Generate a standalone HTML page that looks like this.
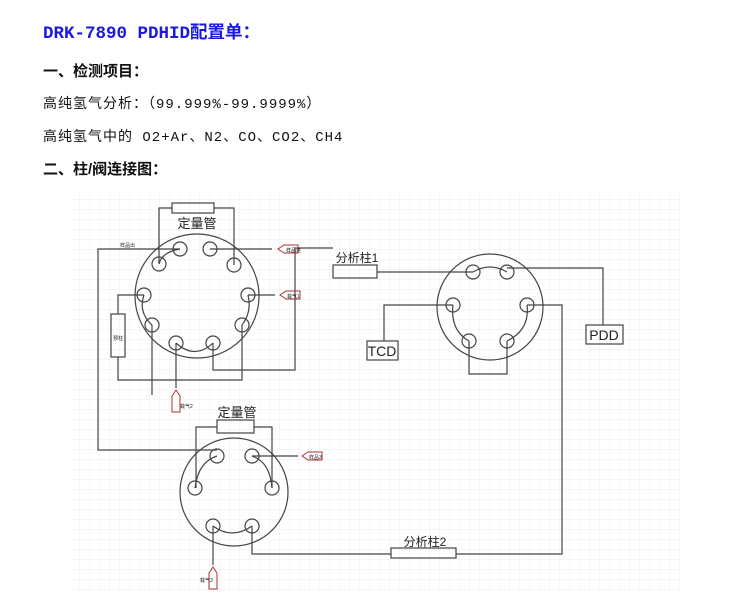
<!DOCTYPE html>
<html><head><meta charset="utf-8"><style>
body{margin:0;width:750px;height:600px;background:#fff;overflow:hidden;position:relative;font-family:"Liberation Sans","Noto Sans CJK SC",sans-serif}
.t{position:absolute;left:43px;white-space:nowrap;color:#111}
.m{font-family:"Liberation Mono","Noto Sans CJK SC",monospace;font-size:14px;letter-spacing:1px}
</style></head><body>
<div class="t" style="top:19px;font-size:17.5px;font-weight:bold;color:#1a1adc;font-family:'Liberation Mono','Noto Sans CJK SC',monospace">DRK-7890 PDHID配置单：</div>
<div class="t" style="top:60px;font-size:15px;font-weight:bold">一、检测项目：</div>
<div class="t m" style="top:93px">高纯氢气分析：（99.999%-99.9999%）</div>
<div class="t m" style="top:126px">高纯氢气中的 O2+Ar、N2、CO、CO2、CH4</div>
<div class="t" style="top:158px;font-size:15px;font-weight:bold">二、柱/阀连接图：</div>
<svg style="position:absolute;left:0;top:0" width="750" height="600">
<defs><pattern id="g" width="10" height="10" patternUnits="userSpaceOnUse"><path d="M10 0V10H0" fill="none" stroke="#ececec" stroke-width="1"/></pattern></defs>
<rect x="72" y="192" width="608" height="398" fill="url(#g)"/>
<g fill="none" stroke="#444" stroke-width="1.2">
<circle cx="197" cy="296" r="62"/>
<circle cx="180" cy="249" r="7"/><circle cx="210" cy="249" r="7"/>
<circle cx="159" cy="264" r="7"/><circle cx="234" cy="265" r="7"/>
<circle cx="144" cy="295" r="7"/><circle cx="248" cy="295" r="7"/>
<circle cx="152" cy="325" r="7"/><circle cx="242" cy="325" r="7"/>
<circle cx="176" cy="343" r="7"/><circle cx="213" cy="343" r="7"/>
<path d="M180 249Q162 252 159 264M144 295Q138 312 152 325M176 343Q195 360 213 343M248 295Q252 312 242 325"/>
<rect x="172" y="203" width="42" height="10"/>
<path d="M172 208H159V264M214 208H234V265"/>
<path d="M180 249H98V450H217"/>
<path d="M210 249H272M248 295H275"/>
<rect x="111" y="314" width="14" height="43"/>
<path d="M144 295H118V314M118 357V380H242V325M152 325V395M176 343V388"/>
<path d="M213 343V370H295V248H333M377 272H473"/>
<rect x="333" y="265" width="44" height="13"/>
<circle cx="490" cy="307" r="53"/>
<circle cx="473" cy="272" r="7"/><circle cx="507" cy="272" r="7"/>
<circle cx="453" cy="305" r="7"/><circle cx="527" cy="305" r="7"/>
<circle cx="469" cy="341" r="7"/><circle cx="507" cy="341" r="7"/>
<path d="M473 272Q490 262 507 272M453 305Q450 330 469 341M507 341Q530 330 527 305"/>
<path d="M507 268H603V325M453 305H384V341M527 305H562V554H456M469 341V374H507V341"/>
<rect x="586" y="325" width="37" height="19"/>
<rect x="367" y="341" width="31" height="19"/>
<circle cx="234" cy="492" r="54"/>
<circle cx="217" cy="456" r="7"/><circle cx="252" cy="456" r="7"/>
<circle cx="195" cy="488" r="7"/><circle cx="272" cy="488" r="7"/>
<circle cx="213" cy="526" r="7"/><circle cx="252" cy="526" r="7"/>
<path d="M217 456Q198 462 195 488M252 456Q270 462 272 488M213 526Q232 540 252 526"/>
<rect x="217" y="420" width="37" height="13"/>
<path d="M217 427H196V488M254 427H272V488M252 456H298M213 526V565M252 526V554H391"/>
<rect x="391" y="548" width="65" height="10"/>
</g>
<g fill="none" stroke="#a33" stroke-width="1">
<path d="M278 249L284 245H298V253H284Z"/>
<path d="M280 295L286 291H300V299H286Z"/>
<path d="M176 390L180 396V412H172V396Z"/>
<path d="M302 456L308 452H322V460H308Z"/>
<path d="M213 567L217 573V589H209V573Z"/>
</g>
<g font-family="'Liberation Sans','Noto Sans CJK SC',sans-serif" fill="#222">
<text x="197" y="228" font-size="13" text-anchor="middle">定量管</text>
<text x="237" y="417" font-size="13" text-anchor="middle">定量管</text>
<text x="357" y="262" font-size="12" text-anchor="middle">分析柱1</text>
<text x="425" y="546" font-size="12" text-anchor="middle">分析柱2</text>
<text x="604" y="340" font-size="14" text-anchor="middle">PDD</text>
<text x="382" y="356" font-size="14" text-anchor="middle">TCD</text>
<text x="120" y="247" font-size="5">样品出</text>
<text x="286" y="252" font-size="5">样品进</text>
<text x="287" y="298" font-size="5">载气1</text>
<text x="180" y="408" font-size="5">载气2</text>
<text x="309" y="459" font-size="5">样品3</text>
<text x="200" y="582" font-size="5">载气3</text>
<text x="118" y="340" font-size="5" text-anchor="middle">预柱</text>
</g>
</svg>
</body></html>
